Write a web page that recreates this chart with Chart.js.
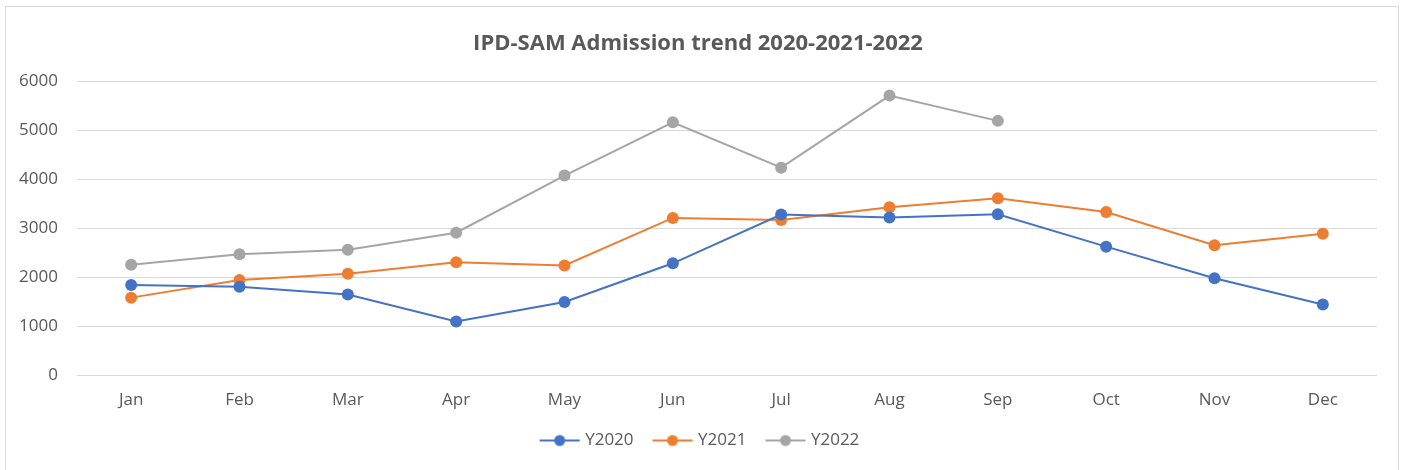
<!DOCTYPE html>
<html>
<head>
<meta charset="utf-8">
<script src="https://cdn.jsdelivr.net/npm/chart.js@4"></script>
<style>
body{margin:0;background:#fff;}
#wrap{position:absolute;left:5px;top:6px;width:1394px;height:470px;border:1px solid #d9d9d9;box-sizing:border-box;}
#box{position:absolute;left:0;top:0;width:1405px;height:470px;}
</style>
</head>
<body>
<div id="wrap"></div>
<div id="box"><canvas id="salesChart" width="1405" height="470"></canvas></div>
<script>
const months = ["Jan","Feb","Mar","Apr","May","Jun","Jul","Aug","Sep","Oct","Nov","Dec"];
const y2020 = [1850,1810,1655,1105,1500,2290,3285,3225,3290,2630,1985,1450];
const y2021 = [1590,1950,2075,2310,2245,3215,3175,3435,3615,3335,2660,2895];
const y2022 = [2260,2475,2565,2915,4080,5165,4240,5710,5195,null,null,null];
const yTicks = [0,1000,2000,3000,4000,5000,6000];

const colors = ["#4472C4","#ED7D31","#A5A5A5"];

// line + dot icon like the excel legend
function legendIcon(c){
let cv = document.createElement("canvas");
cv.width = 58; cv.height = 14;
let g = cv.getContext("2d");
g.strokeStyle = c; g.lineWidth = 2;
g.beginPath(); g.moveTo(12,7); g.lineTo(52,7); g.stroke();
g.fillStyle = c;
g.beginPath(); g.arc(32,7,5.5,0,Math.PI*2); g.fill();
return cv;
}

function ds(label, data, c){
return {
label: label,
data: data,
borderColor: c,
backgroundColor: c,
borderWidth: 2,
pointRadius: 6,
pointHoverRadius: 6,
pointBorderWidth: 0,
spanGaps: false,
pointStyle: "circle"
};
}

new Chart(document.getElementById("salesChart"), {
type: "line",
data: {
labels: months,
datasets: [
ds("Y2020", y2020, colors[0]),
ds("Y2021", y2021, colors[1]),
ds("Y2022", y2022, colors[2])
]
},
options: {
responsive: false,
animation: false,
layout: { padding: { left: 19, right: 28, top: 14, bottom: 11 } },
plugins: {
title: {
display: true,
text: "IPD-SAM Admission trend 2020-2021-2022",
color: "#595959",
font: { family: "Open Sans", size: 22, weight: "bold" },
padding: { top: 17, bottom: 24 }
},
legend: {
position: "bottom",
labels: {
color: "#595959",
font: { family: "Open Sans", size: 17 },
usePointStyle: true,
pointStyleWidth: 40,
padding: 16,
generateLabels: chart => chart.data.datasets.map((d,i)=>({
text: d.label,
fillStyle: d.borderColor,
strokeStyle: d.borderColor,
fontColor: "#595959",
pointStyle: legendIcon(d.borderColor),
datasetIndex: i,
hidden: false
}))
}
},
tooltip: { enabled: false }
},
scales: {
x: {
offset: true,
grid: { display: false },
border: { display: false },
ticks: { color: "#595959", font: { family: "Open Sans", size: 17 }, padding: 6 }
},
y: {
min: 0,
max: 6000,
afterBuildTicks: axis => { axis.ticks = yTicks.map(v=>({value:v})); },
afterFit: axis => { axis.width = 58; },
grid: { color: "#d9d9d9", lineWidth: 1, drawTicks: false },
border: { display: false },
ticks: { color: "#595959", font: { family: "Open Sans", size: 17 }, padding: 19, callback: v => String(v) }
}
}
}
});
</script>
</body>
</html>
